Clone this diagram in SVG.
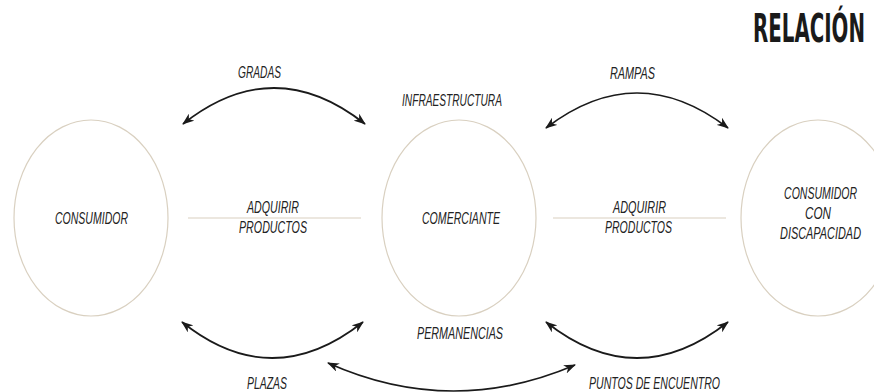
<svg xmlns="http://www.w3.org/2000/svg" width="874" height="392" viewBox="0 0 874 392">
<defs>
<marker id="ah" viewBox="0 0 12 9" refX="11" refY="4.5" markerWidth="12" markerHeight="9" markerUnits="userSpaceOnUse" orient="auto-start-reverse">
<path d="M0,0 L12,4.5 L0,9 L3.5,4.5 z" fill="#1a1a1a"/>
</marker>
</defs>
<style>
.node ellipse{fill:none;stroke:#d9d0c0;stroke-width:1.2}
.sep{stroke:#d9d0c0;stroke-width:1.2}
.lbl{font-family:"Liberation Sans","DejaVu Sans",sans-serif;font-style:italic;font-size:16.5px;fill:#222}
.end{text-anchor:end}
.arc{fill:none;stroke:#1a1a1a;stroke-width:1.7;marker-start:url(#ah);marker-end:url(#ah)}
.title{font-family:"DejaVu Sans Condensed","Liberation Sans",sans-serif;font-weight:900;font-size:39px;fill:#1a1a1a;text-anchor:end}
</style>
<rect width="874" height="392" fill="#ffffff"/>
<text class="title" transform="translate(865,42) scale(0.56,1)" x="0" y="0" textLength="200" lengthAdjust="spacingAndGlyphs">RELACIÓN</text>

<g id="consumidor" class="node">
<ellipse cx="91" cy="218" rx="77" ry="98"/>
<text class="lbl" x="55" y="224" textLength="73" lengthAdjust="spacingAndGlyphs">CONSUMIDOR</text>
</g>
<g id="comerciante" class="node">
<ellipse cx="459" cy="218" rx="77" ry="98"/>
<text class="lbl" x="422" y="224" textLength="78" lengthAdjust="spacingAndGlyphs">COMERCIANTE</text>
</g>
<g id="consumidor-discapacidad" class="node">
<ellipse cx="818" cy="218" rx="77" ry="98"/>
<text class="lbl end" transform="translate(857,199) scale(0.64,1)" x="0" y="0" textLength="114" lengthAdjust="spacingAndGlyphs">CONSUMIDOR</text>
<text class="lbl end" transform="translate(831,219) scale(0.71,1)" x="0" y="0" textLength="36.6" lengthAdjust="spacingAndGlyphs">CON</text>
<text class="lbl end" transform="translate(861,239) scale(0.66,1)" x="0" y="0" textLength="122.7" lengthAdjust="spacingAndGlyphs">DISCAPACIDAD</text>
</g>

<g id="connectors">
<line class="sep" x1="188" y1="218" x2="361" y2="218"/>
<line class="sep" x1="553" y1="218" x2="726" y2="218"/>
<path class="arc" d="M183,124 Q274,52 365,124"/>
<path class="arc" d="M546,128 Q637,58 728,128"/>
<path class="arc" d="M182,322 Q272,394 363,322"/>
<path class="arc" d="M546,322 Q637,394 728,322"/>
<path class="arc" d="M328,363 Q451,418 575,365"/>
</g>

<g id="labels">
<text class="lbl" x="238" y="78" textLength="43" lengthAdjust="spacingAndGlyphs">GRADAS</text>
<text class="lbl" x="610" y="79" textLength="45" lengthAdjust="spacingAndGlyphs">RAMPAS</text>
<text class="lbl" x="402" y="106" textLength="100" lengthAdjust="spacingAndGlyphs">INFRAESTRUCTURA</text>
<text class="lbl" x="247" y="213" textLength="52" lengthAdjust="spacingAndGlyphs">ADQUIRIR</text>
<text class="lbl" x="239" y="233" textLength="68" lengthAdjust="spacingAndGlyphs">PRODUCTOS</text>
<text class="lbl" x="613" y="213" textLength="53" lengthAdjust="spacingAndGlyphs">ADQUIRIR</text>
<text class="lbl" x="605" y="233" textLength="67" lengthAdjust="spacingAndGlyphs">PRODUCTOS</text>
<text class="lbl" x="417" y="339" textLength="86" lengthAdjust="spacingAndGlyphs">PERMANENCIAS</text>
<text class="lbl" x="247" y="389" textLength="40" lengthAdjust="spacingAndGlyphs">PLAZAS</text>
<text class="lbl" x="589" y="389" textLength="131" lengthAdjust="spacingAndGlyphs">PUNTOS DE ENCUENTRO</text>
</g>
</svg>
